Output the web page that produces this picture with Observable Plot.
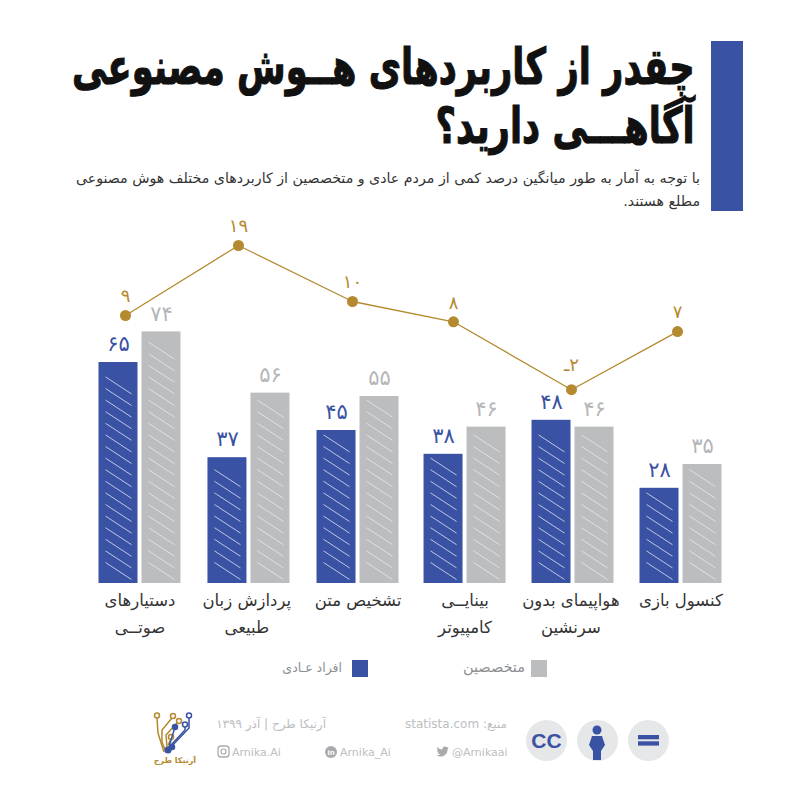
<!DOCTYPE html>
<html lang="fa"><head><meta charset="utf-8">
<script src="https://cdn.jsdelivr.net/npm/d3@7"></script>
<script src="https://cdn.jsdelivr.net/npm/@observablehq/plot@0.6"></script>
<style>
html,body{margin:0;padding:0;background:#fff}
#page{position:relative;width:800px;height:800px;overflow:hidden;font-family:"DejaVu Sans",sans-serif;background:#fff}
#page>*{position:absolute}
.rt{direction:rtl;white-space:nowrap}
.ft{color:#bcbec1;font-size:12px}
.circ{width:41px;height:41px;border-radius:50%;background:#e6e7e9;top:720px}
#title{right:105px;top:38px;font-size:50px;font-weight:bold;line-height:59px;color:#111;-webkit-text-stroke:1.2px #111;transform-origin:100% 0}
</style></head><body>
<div id="page">
  <div style="left:711px;top:41px;width:32px;height:170px;background:#3a52a4"></div>
  <div id="title" class="rt"><div>چقدر از کاربردهای هــوش مصنوعی</div><div>آگاهـــی دارید؟</div></div>
  <div class="rt" style="right:100px;top:167px;font-size:14.2px;line-height:23px;color:#333">
    <div>با توجه به آمار به طور میانگین درصد کمی از مردم عادی و متخصصین از کاربردهای مختلف هوش مصنوعی</div><div>مطلع هستند.</div></div>
  <div id="chart" style="left:0;top:220px;width:800px;height:440px"></div>
  <div style="left:352px;top:660px;width:16px;height:17px;background:#3a52a4"></div>
  <div class="rt" style="right:458px;top:660px;font-size:12.5px;color:#8d8f92">افراد عـادی</div>
  <div style="left:531px;top:660px;width:16px;height:17px;background:#bcbdbf"></div>
  <div class="rt" style="right:275px;top:659px;font-size:14.5px;color:#8d8f92">متخصصین</div>
  <div class="rt ft" style="right:293px;top:717px">منبع:  statista.com</div>
  <div class="rt ft" style="right:474px;top:717px">آرنیکا طرح | آذر ۱۳۹۹</div>
  <div class="ft" style="left:452px;top:746px;font-size:11px">@Arnikaai</div>
  <div class="ft" style="left:340px;top:746px;font-size:11px">Arnika_Ai</div>
  <div class="ft" style="left:232px;top:746px;font-size:11px">Arnika.Ai</div>
  <div class="circ" style="left:526px"></div>
  <div class="circ" style="left:577px"></div>
  <div class="circ" style="left:628px"></div>
  <svg style="left:0;top:0;pointer-events:none" width="800" height="800" viewBox="0 0 800 800" fill="none">
    <path transform="translate(436,745) scale(.55)" fill="#a9abae" d="M23 4.900c-.8.4-1.700.6-2.600.7 1-.6 1.700-1.500 2-2.500-.9.5-1.900.9-2.900 1.100A4.600 4.600 0 0 0 11.700 8.400 13 13 0 0 1 2.300 3.600a4.600 4.600 0 0 0 1.400 6.100c-.7 0-1.400-.2-2-.6 0 2.200 1.500 4.100 3.700 4.500-.7.2-1.400.2-2.100.1.6 1.800 2.300 3.100 4.300 3.200A9.300 9.300 0 0 1 1 18.900 13 13 0 0 0 8 21c8.400 0 13.400-7.100 13-13.500.9-.7 1.600-1.500 2-2.600z"/>
    <circle cx="331" cy="752" r="6" fill="#a9abae"/>
    <text x="331" y="755" text-anchor="middle" fill="#fff" font-size="8" font-weight="bold" font-family="Liberation Sans">in</text>
    <rect x="218" y="746" width="11" height="11" rx="3" stroke="#a9abae" stroke-width="1.3"/><circle cx="223.500" cy="751.500" r="2.500" stroke="#a9abae" stroke-width="1.200"/>
    <g stroke="#b5892f" stroke-width="1.500">
      <polyline points="157,718 158,733 164,752"/><polyline points="172,718 162,730 162,742 166,752"/><polyline points="177,723 166,735 167,747"/><polyline points="171,739 168,745"/>
      <circle cx="157" cy="715.500" r="2.500" fill="#fff"/><circle cx="173" cy="716" r="2.500" fill="#fff"/><circle cx="179" cy="721" r="2.500" fill="#fff"/><circle cx="171" cy="737" r="2.500" fill="#fff"/>
    </g>
    <g stroke="#3a52a4" stroke-width="1.500">
      <polyline points="189,718 189,728 170,748"/><polyline points="185,727 185,730 171,745"/><polyline points="175,727 168,750"/>
      <circle cx="189" cy="715.500" r="2.500" fill="#fff"/><circle cx="185" cy="724.500" r="2.500" fill="#fff"/>
      <circle cx="175" cy="727" r="2.500" fill="#3a52a4"/><circle cx="168" cy="750" r="2.800" fill="#3a52a4"/><circle cx="172" cy="747" r="2.500" fill="#3a52a4"/>
    </g>
    <g fill="#3a52a4">
      <circle cx="597" cy="730" r="4.500"/><path d="M592 736h10l3 9-4 6v9h-8v-9l-4-6z"/>
      <rect x="638" y="735" width="21" height="4.300"/><rect x="638" y="741.300" width="21" height="4.300"/>
    </g>
  </svg>
  <div style="left:526px;top:720px;width:41px;height:41px;display:flex;align-items:center;justify-content:center;color:#3a52a4;font:bold 21px 'Liberation Sans'">CC</div>
  <div class="rt" style="left:154px;top:756px;font-size:8px;font-weight:bold;color:#b5892f;width:42px;text-align:center">آرنیکا طرح</div>
</div>
<script>
const categories = ["دستیارهای\nصوتــی","پردازش زبان\nطبیعی","تشخیص متن","بینایــی\nکامپیوتر","هواپیمای بدون\nسرنشین","کنسول بازی"];
const ordinaryPeople = [65,37,45,38,48,28];
const specialists = [74,56,55,46,46,35];
const gapHeights = [9,19,11,8.1,-1.6,6.7];
const gapLabels = ["۹","۱۹","۱۰","۸","\u200f۲ـ","۷"];
// Layout nudges, in category slots (one slot = 108.2 px)
const slotNudge = [0,.007,.015,.004,.002,0];
const labelNudge = [0,-.02,0,0,-.02,0];
const trendNudge = [-.134,-.09,-.036,-.103,-.012,-.032];

const BLUE="#3a52a4", GRAY="#bcbdbf", GOLD="#b5892f";
const slot=108.2, barW=39/slot, gap=4/slot;
const fa = v => v.toLocaleString("fa",{useGrouping:false});
const xOpt = {domain:[0,5],range:[139.5,680.5],axis:null};
const bars = categories.flatMap((c,i)=>[
  {i,v:ordinaryPeople[i],x1:i+slotNudge[i]-barW-gap/2,x2:i+slotNudge[i]-gap/2,fill:BLUE},
  {i,v:specialists[i],x1:i+slotNudge[i]+gap/2,x2:i+slotNudge[i]+gap/2+barW,fill:GRAY}
]);
const ppu=3.4, ins=6.5/slot, step=11.6/ppu, foot=4/ppu, rise=17/ppu;
const hatch = bars.flatMap(b=>{
  const out=[];
  for(let y2=foot; y2+rise<b.v-1; y2+=step)
    out.push({x1:b.x1+ins,x2:b.x2-ins,y1:y2+rise,y2,c:b.fill===BLUE?.75:.6});
  return out;
});
const common={width:800,height:440,margin:0,style:{background:"transparent",fontFamily:"'DejaVu Sans',sans-serif",position:"absolute",left:0,top:0,overflow:"visible"}};
const barPlot = Plot.plot({...common,
  x:xOpt, y:{domain:[0,100],range:[363,23],axis:null},
  marks:[
    Plot.rect(bars,{x1:"x1",x2:"x2",y1:0,y2:"v",fill:"fill"}),
    Plot.link(hatch,{x1:"x1",x2:"x2",y1:"y1",y2:"y2",stroke:"#fff",strokeWidth:.9,strokeOpacity:"c"}),
    Plot.text(bars,{x:d=>(d.x1+d.x2)/2,y:"v",text:d=>fa(d.v),fill:d=>d.fill===BLUE?BLUE:"#b4b6b9",fontSize:21,dy:-18}),
    Plot.text(categories,{x:(d,i)=>i+slotNudge[i]+labelNudge[i],y:()=>0,text:d=>d,fill:"#333",fontSize:16.5,lineHeight:1.64,lineAnchor:"top",dy:3})
  ]});
const trend = categories.map((c,i)=>({x:i+trendNudge[i],y:gapHeights[i],l:gapLabels[i],dy:i===4?24:18}));
const trendPlot = Plot.plot({...common,
  x:xOpt, y:{domain:[-5,20],range:[193,18],axis:null},
  marks:[
    Plot.line(trend,{x:"x",y:"y",stroke:GOLD,strokeWidth:1.3,curve:"linear"}),
    Plot.dot(trend,{x:"x",y:"y",r:5.5,fill:GOLD}),
    Plot.text(trend.filter(d=>d.dy===18),{x:"x",y:"y",text:"l",fill:GOLD,fontSize:18,dy:-19}),
    Plot.text(trend.filter(d=>d.dy===24),{x:"x",y:"y",text:"l",fill:GOLD,fontSize:18,dy:-24})
  ]});
document.getElementById("chart").append(barPlot,trendPlot);
const t=document.getElementById("title");
t.style.transform=`scaleX(${623/t.offsetWidth})`;
</script>
</body></html>
